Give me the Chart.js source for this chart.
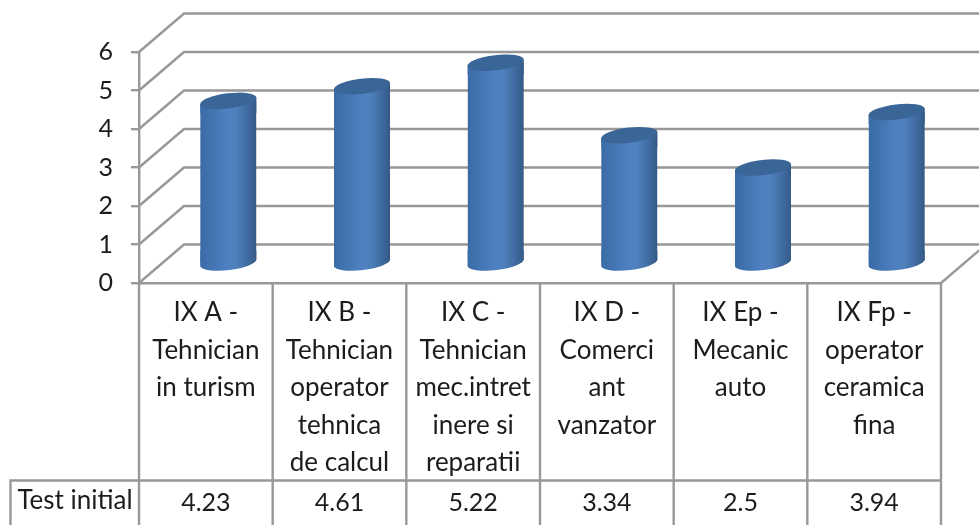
<!DOCTYPE html>
<html><head><meta charset="utf-8">
<style>html,body{margin:0;padding:0;background:#fff;overflow:hidden}canvas{display:block}</style>
<script src="https://cdn.jsdelivr.net/npm/chart.js@4"></script>
</head><body><canvas id="c" width="979" height="525"></canvas>
<script>
const categories = [
  ["IX A -","Tehnician","in turism"],
  ["IX B -","Tehnician","operator","tehnica","de calcul"],
  ["IX C -","Tehnician","mec.intret","inere si","reparatii"],
  ["IX D -","Comerci","ant","vanzator"],
  ["IX Ep -","Mecanic","auto"],
  ["IX Fp -","operator","ceramica","fina"]
];
const seriesName = "Test initial";
const values = [4.23, 4.61, 5.22, 3.34, 2.5, 3.94];
const yTicks = [0,1,2,3,4,5,6];

const FONT = "Lato";
const FS = 26;
const FSD = 25;
const TXT = "#1c1c1c";
const GRID = "#989898";
const LW = 2.4;
const DX = 45, DY = 38.5;
const BW = 56;

function sideGradient(c, cx){
  const g = c.createLinearGradient(cx-BW/2,0,cx+BW/2,0);
  g.addColorStop(0,"#3a6ba6");
  g.addColorStop(0.5,"#4f81c2");
  g.addColorStop(0.64,"#4f80be");
  g.addColorStop(0.87,"#3e699d");
  g.addColorStop(1,"#345a86");
  return g;
}
function ell(c,x,y){
  c.beginPath();
  c.ellipse(x,y,BW/2+0.3,7.6,-0.12,0,Math.PI*2);
}
const threeD = {
  id:"threeD",
  beforeDraw(chart){
    const c=chart.ctx, a=chart.chartArea, y=chart.scales.y;
    c.save();
    c.strokeStyle=GRID; c.lineWidth=LW;
    yTicks.forEach(v=>{
      const p=y.getPixelForValue(v);
      c.beginPath();
      c.moveTo(a.left,p);
      c.lineTo(a.left+DX,p-DY);
      c.lineTo(a.right+DX,p-DY);
      c.stroke();
    });
    c.beginPath();
    c.moveTo(a.right,a.bottom);
    c.lineTo(a.right+DX,a.bottom-DY);
    c.stroke();
    c.restore();
  },
  beforeDatasetsDraw(chart){
    const c=chart.ctx, meta=chart.getDatasetMeta(0);
    c.save();
    meta.data.forEach(b=>{
      c.save();
      c.translate(DX/2,-DY/2);
      c.fillStyle=sideGradient(c,b.x);
      const L=b.x-BW/2, R=b.x+BW/2;
      ell(c,b.x,b.base); c.fill();
      c.beginPath();
      c.moveTo(L,b.base+3.2); c.lineTo(R,b.base-3.2); c.lineTo(R,b.base-12); c.lineTo(L,b.base-12); c.closePath(); c.fill();
      c.beginPath();
      c.moveTo(L,b.y+3.2); c.lineTo(R,b.y-3.2); c.lineTo(R,b.y+12); c.lineTo(L,b.y+12); c.closePath(); c.fill();
      c.restore();
    });
    c.beginPath();
    meta.data.forEach(b=>{
      const L=b.x+DX/2-BW/2, R=b.x+DX/2+BW/2, t=b.y-DY/2, bt=b.base-DY/2;
      c.moveTo(L,t+3.2); c.lineTo(R,t-3.2); c.lineTo(R,bt-3.2); c.lineTo(L,bt+3.2); c.closePath();
    });
    c.clip();
    c.translate(DX/2,-DY/2);
  },
  afterDatasetsDraw(chart){
    const c=chart.ctx, meta=chart.getDatasetMeta(0);
    c.restore();
    c.save();
    c.translate(DX/2,-DY/2);
    meta.data.forEach(b=>{
      ell(c,b.x,b.y);
      c.fillStyle="#3a6597";
      c.fill();
    });
    c.restore();
  },
  afterDraw(chart){
    const c=chart.ctx, a=chart.chartArea, x=chart.scales.x;
    const H=chart.height, rowTop=480.5;
    c.save();
    c.strokeStyle=GRID; c.lineWidth=LW;
    for(let i=0;i<=values.length;i++){
      const p=x.getPixelForValue(i-0.5);
      c.beginPath(); c.moveTo(p,a.bottom); c.lineTo(p,H); c.stroke();
    }
    c.beginPath(); c.moveTo(10.5,H); c.lineTo(10.5,rowTop); c.lineTo(a.right,rowTop); c.stroke();
    c.fillStyle=TXT;
    c.textAlign="center"; c.textBaseline="middle";
    c.font=FS+"px "+FONT;
    c.fillText(seriesName,75,501);
    c.font=FSD+"px "+FONT;
    values.forEach((v,i)=>c.fillText(String(v),x.getPixelForValue(i),503));
    c.restore();
  }
};
new Chart(document.getElementById("c"),{
  type:"bar",
  data:{labels:categories,datasets:[{
    label:seriesName,
    data:values,
    barThickness:BW,
    borderWidth:0,
    backgroundColor(ctx){
      const sx=ctx.chart.scales.x;
      if(!sx || ctx.dataIndex===undefined) return "#4f81bd";
      const p=sx.getPixelForValue(ctx.dataIndex);
      return Number.isFinite(p)?sideGradient(ctx.chart.ctx,p):"#4f81bd";
    }
  }]},
  options:{
    responsive:false,animation:false,
    layout:{padding:{top:52,right:38,left:0,bottom:0}},
    plugins:{legend:{display:false},tooltip:{enabled:false},title:{display:false}},
    scales:{
      y:{
        min:0,max:6,
        afterFit(s){s.width=139;},
        ticks:{stepSize:1,color:TXT,padding:18,font:{family:FONT,size:FSD}},
        border:{color:GRID,width:LW},
        grid:{drawOnChartArea:false,drawTicks:true,tickLength:8,color:GRID,lineWidth:LW}
      },
      x:{
        afterFit(s){s.height=242;},
        ticks:{autoSkip:false,maxRotation:0,minRotation:0,color:TXT,padding:11,
          font:{family:FONT,size:FS,lineHeight:1.445}},
        border:{color:GRID,width:LW},
        grid:{drawOnChartArea:false,drawTicks:false}
      }
    }
  },
  plugins:[threeD]
});
</script></body></html>
